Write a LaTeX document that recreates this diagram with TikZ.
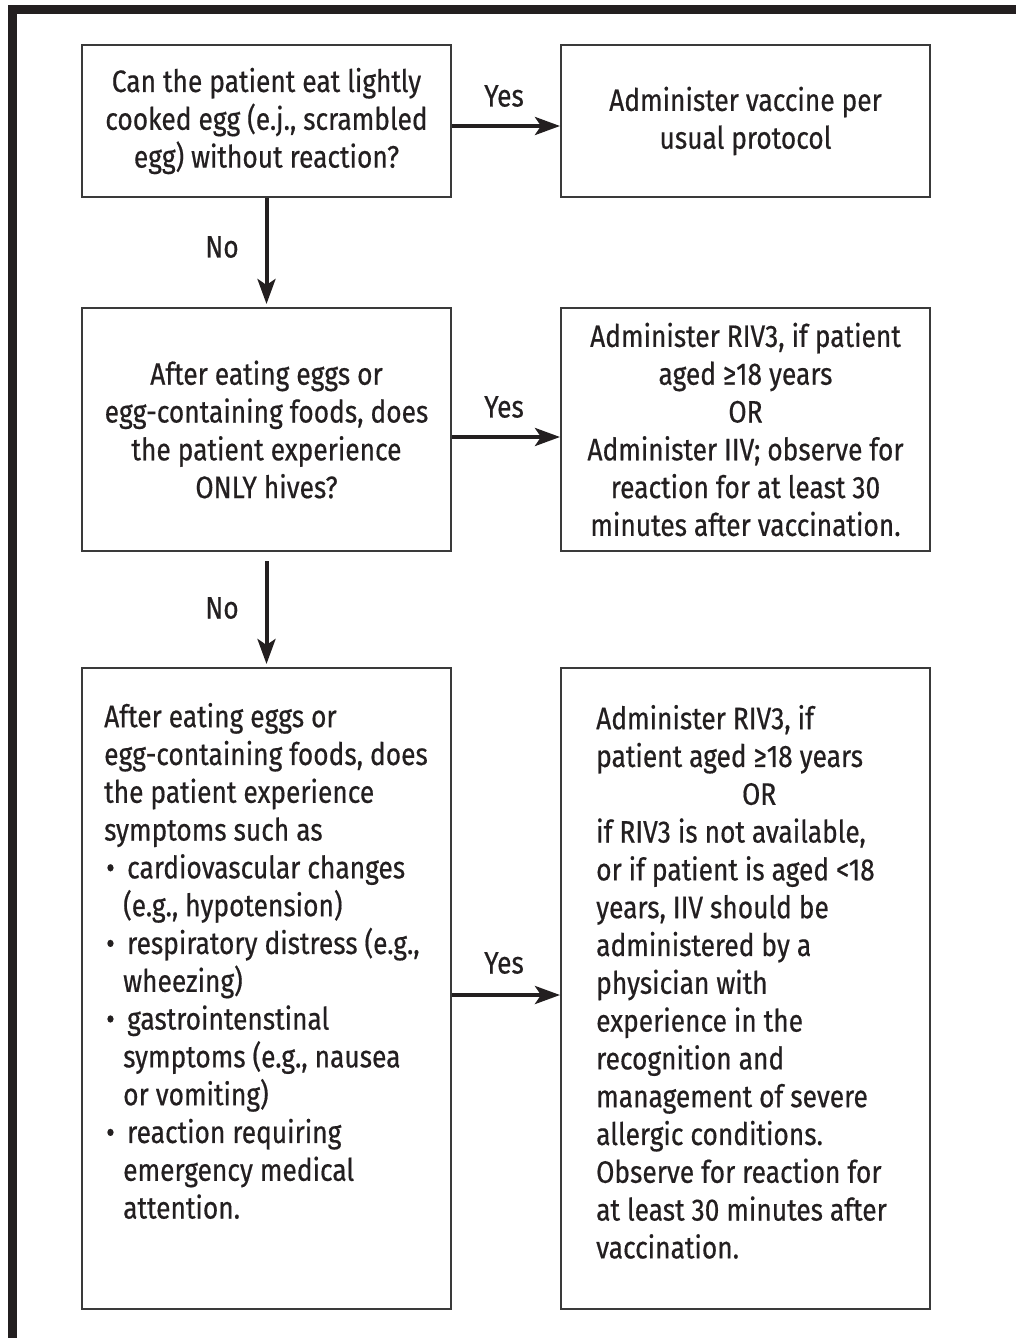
\documentclass[tikz,border=0pt]{standalone}
\usepackage{fontspec}
\setmainfont{Fira Sans}[FakeStretch=0.85,FakeBold=0.5]
\usetikzlibrary{arrows.meta}
\definecolor{ink}{HTML}{231F20}
\definecolor{edge}{HTML}{3A3A3A}
\begin{document}
\begin{tikzpicture}[x=1pt,y=-1pt,
  box/.style={draw=edge, line width=2pt, minimum width=369pt, inner sep=0pt},
  txt/.style={text=ink, font=\fontsize{31}{37.8}\selectfont, inner sep=0pt},
  flow/.style={draw=ink, line width=4pt, -{Stealth[length=25pt,width=18pt,inset=6pt]}},
  lab/.style={text=ink, font=\fontsize{31}{37.8}\selectfont, inner sep=0pt}]
\useasboundingbox (0,0) rectangle (1016,1338);
\clip (0,0) rectangle (1016,1338);
\fill[white] (0,0) rectangle (1016,1338);
% heavy frame along the top and left
\fill[ink] (8,5) rectangle (17,1338);
\fill[ink] (8,5) rectangle (1016,14);

% boxes
\node[box, minimum height=152pt] (b1) at (266.5,121) {};
\node[box, minimum height=152pt] (b2) at (745.5,121) {};
\node[box, minimum height=243pt] (b3) at (266.5,429.5) {};
\node[box, minimum height=243pt] (b4) at (745.5,429.5) {};
\node[box, minimum height=641pt] (b5) at (266.5,988.5) {};
\node[box, minimum height=641pt] (b6) at (745.5,988.5) {};

% box texts
\node[txt, align=center] (t1) at (b1.center) {Can the patient eat lightly\\cooked egg (e.j., scrambled\\egg) without reaction?};
\node[txt, align=center] (t2) at (b2.center) {Administer vaccine per\\usual protocol};
\node[txt, align=center] (t3) at (b3.center) {After eating eggs or\\egg-containing foods, does\\the patient experience\\ONLY hives?};
\node[txt, align=center] (t4) at (b4.center) {Administer RIV3, if patient\\aged ≥18 years\\OR\\Administer IIV; observe for\\reaction for at least 30\\minutes after vaccination.};
\node[txt, align=left, anchor=north west] (t5) at (104,700.5) {\strut After eating eggs or\\
egg-containing foods, does\\
the patient experience\\
symptoms such as\\
\makebox[23pt][l]{\hspace{2pt}•}cardiovascular changes\\
\hspace*{19pt}(e.g., hypotension)\\
\makebox[23pt][l]{\hspace{2pt}•}respiratory distress (e.g.,\\
\hspace*{19pt}wheezing)\\
\makebox[23pt][l]{\hspace{2pt}•}gastrointenstinal\\
\hspace*{19pt}symptoms (e.g., nausea\\
\hspace*{19pt}or vomiting)\\
\makebox[23pt][l]{\hspace{2pt}•}reaction requiring\\
\hspace*{19pt}emergency medical\\
\hspace*{19pt}attention.};
\node[txt, align=left, anchor=north west] (t6) at (596,702.5) {\strut Administer RIV3, if\\
patient aged ≥18 years\\
\makebox[326pt][c]{OR}\\
if RIV3 is not available,\\
or if patient is aged <18\\
years, IIV should be\\
administered by a\\
physician with\\
experience in the\\
recognition and\\
management of severe\\
allergic conditions.\\
Observe for reaction for\\
at least 30 minutes after\\
vaccination.};

% connectors
\draw[flow] ([yshift=-5pt]b1.east) -- ([yshift=-5pt]b2.west);
\draw[flow] ([yshift=-7.5pt]b3.east) -- ([yshift=-7.5pt]b4.west);
\draw[flow] ([yshift=-6.5pt]b5.east) -- ([yshift=-6.5pt]b6.west);
\draw[flow, shorten >=3pt] (b1.south) -- (b3.north);
\draw[flow, shorten <=9pt, shorten >=3pt] (b3.south) -- (b5.north);

% branch labels
\node[lab] (y1) at (504,96) {Yes};
\node[lab] (y2) at (504,407) {Yes};
\node[lab] (y3) at (504,963) {Yes};
\node[lab] (n1) at (222,247) {No};
\node[lab] (n2) at (222,608) {No};
\end{tikzpicture}
\end{document}
